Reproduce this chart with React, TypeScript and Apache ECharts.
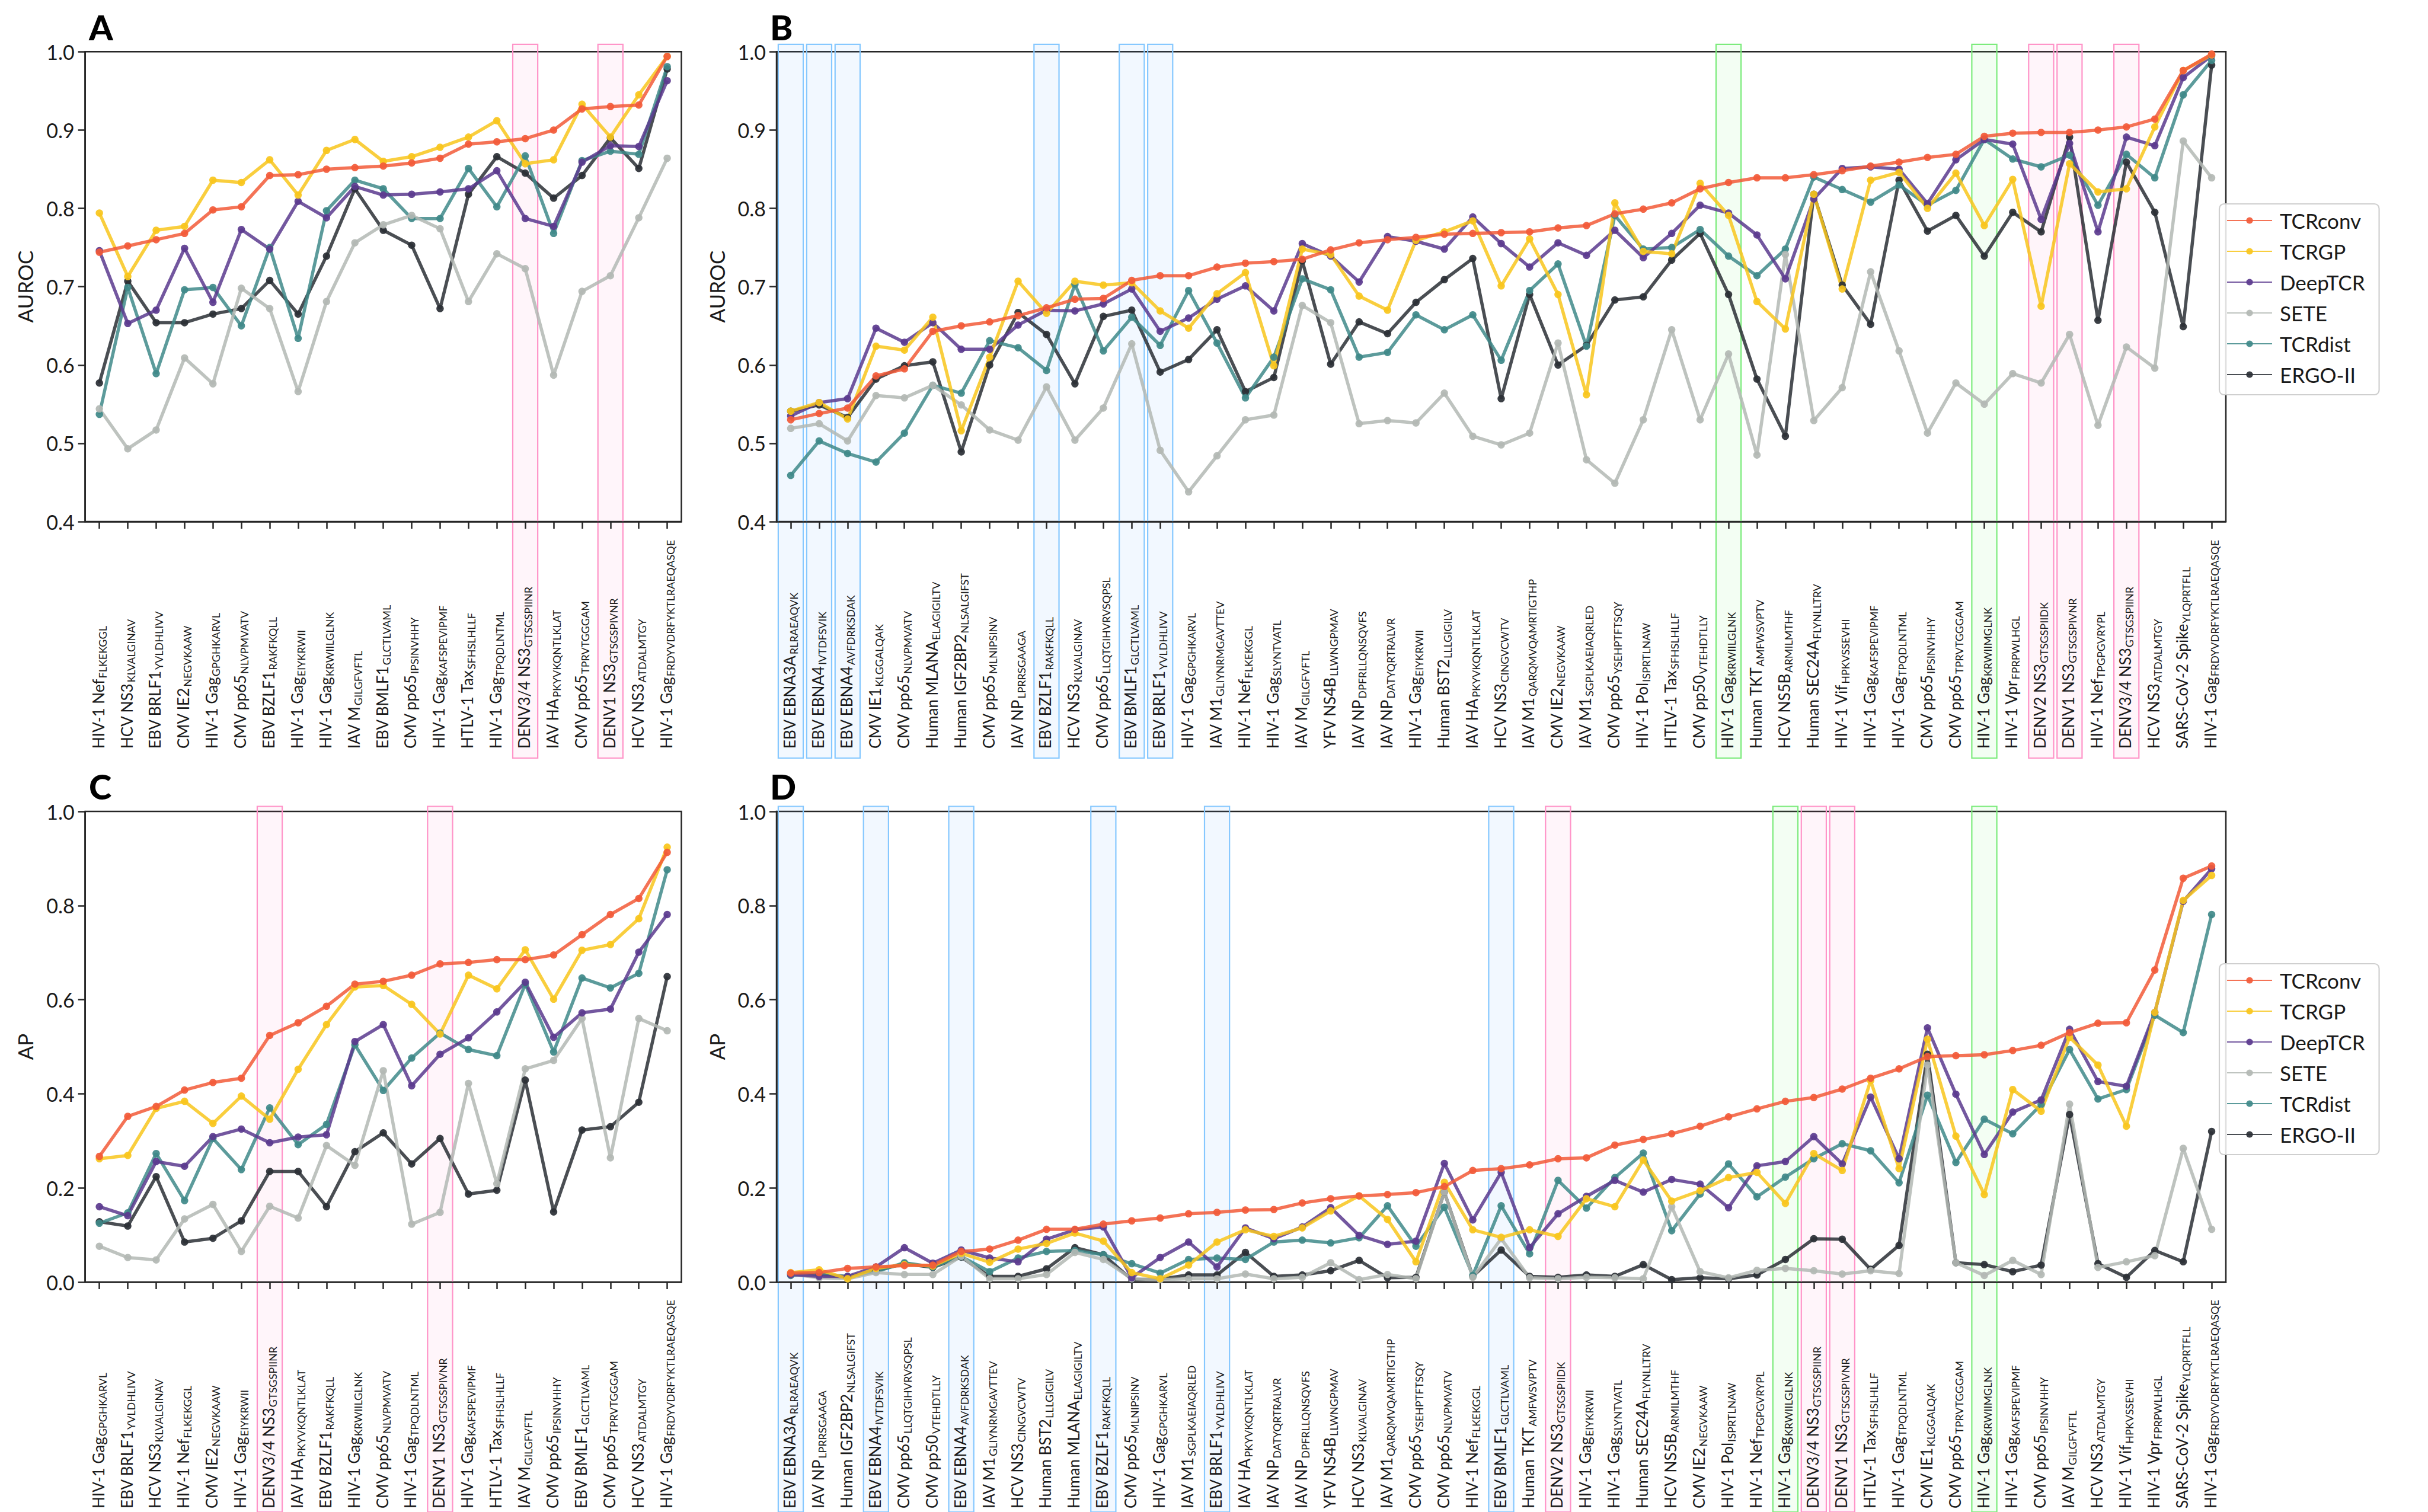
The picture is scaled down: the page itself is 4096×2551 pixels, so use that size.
import React, { useEffect, useRef } from 'react';
import * as echarts from 'echarts';

const W = 4096;
const H = 2551;
const FONT = 'Lato, "Open Sans", "DejaVu Sans", sans-serif';
const INK = '#262626';

// ---------------- categories ----------------
const catsA = ['HIV-1 Nef|FLKEKGGL', 'HCV NS3|KLVALGINAV', 'EBV BRLF1|YVLDHLIVV', 'CMV IE2|NEGVKAAW', 'HIV-1 Gag|GPGHKARVL', 'CMV pp65|NLVPMVATV', 'EBV BZLF1|RAKFKQLL', 'HIV-1 Gag|EIYKRWII', 'HIV-1 Gag|KRWIILGLNK', 'IAV M|GILGFVFTL', 'EBV BMLF1|GLCTLVAML', 'CMV pp65|IPSINVHHY', 'HIV-1 Gag|KAFSPEVIPMF', 'HTLV-1 Tax|SFHSLHLLF', 'HIV-1 Gag|TPQDLNTML', 'DENV3/4 NS3|GTSGSPIINR', 'IAV HA|PKYVKQNTLKLAT', 'CMV pp65|TPRVTGGGAM', 'DENV1 NS3|GTSGSPIVNR', 'HCV NS3|ATDALMTGY', 'HIV-1 Gag|FRDYVDRFYKTLRAEQASQE'];

const catsB = ['EBV EBNA3A|RLRAEAQVK', 'EBV EBNA4|IVTDFSVIK', 'EBV EBNA4|AVFDRKSDAK', 'CMV IE1|KLGGALQAK', 'CMV pp65|NLVPMVATV', 'Human MLANA|ELAGIGILTV', 'Human IGF2BP2|NLSALGIFST', 'CMV pp65|MLNIPSINV', 'IAV NP|LPRRSGAAGA', 'EBV BZLF1|RAKFKQLL', 'HCV NS3|KLVALGINAV', 'CMV pp65|LLQTGIHVRVSQPSL', 'EBV BMLF1|GLCTLVAML', 'EBV BRLF1|YVLDHLIVV', 'HIV-1 Gag|GPGHKARVL', 'IAV M1|GLIYNRMGAVTTEV', 'HIV-1 Nef|FLKEKGGL', 'HIV-1 Gag|SLYNTVATL', 'IAV M|GILGFVFTL', 'YFV NS4B|LLWNGPMAV', 'IAV NP|DPFRLLQNSQVFS', 'IAV NP|DATYQRTRALVR', 'HIV-1 Gag|EIYKRWII', 'Human BST2|LLLGIGILV', 'IAV HA|PKYVKQNTLKLAT', 'HCV NS3|CINGVCWTV', 'IAV M1|QARQMVQAMRTIGTHP', 'CMV IE2|NEGVKAAW', 'IAV M1|SGPLKAEIAQRLED', 'CMV pp65|YSEHPTFTSQY', 'HIV-1 Pol|ISPRTLNAW', 'HTLV-1 Tax|SFHSLHLLF', 'CMV pp50|VTEHDTLLY', 'HIV-1 Gag|KRWIILGLNK', 'Human TKT|AMFWSVPTV', 'HCV NS5B|ARMILMTHF', 'Human SEC24A|FLYNLLTRV', 'HIV-1 Vif|HPKVSSEVHI', 'HIV-1 Gag|KAFSPEVIPMF', 'HIV-1 Gag|TPQDLNTML', 'CMV pp65|IPSINVHHY', 'CMV pp65|TPRVTGGGAM', 'HIV-1 Gag|KRWIIMGLNK', 'HIV-1 Vpr|FPRPWLHGL', 'DENV2 NS3|GTSGSPIIDK', 'DENV1 NS3|GTSGSPIVNR', 'HIV-1 Nef|TPGPGVRYPL', 'DENV3/4 NS3|GTSGSPIINR', 'HCV NS3|ATDALMTGY', 'SARS-CoV-2 Spike|YLQPRTFLL', 'HIV-1 Gag|FRDYVDRFYKTLRAEQASQE'];

const catsC = ['HIV-1 Gag|GPGHKARVL', 'EBV BRLF1|YVLDHLIVV', 'HCV NS3|KLVALGINAV', 'HIV-1 Nef|FLKEKGGL', 'CMV IE2|NEGVKAAW', 'HIV-1 Gag|EIYKRWII', 'DENV3/4 NS3|GTSGSPIINR', 'IAV HA|PKYVKQNTLKLAT', 'EBV BZLF1|RAKFKQLL', 'HIV-1 Gag|KRWIILGLNK', 'CMV pp65|NLVPMVATV', 'HIV-1 Gag|TPQDLNTML', 'DENV1 NS3|GTSGSPIVNR', 'HIV-1 Gag|KAFSPEVIPMF', 'HTLV-1 Tax|SFHSLHLLF', 'IAV M|GILGFVFTL', 'CMV pp65|IPSINVHHY', 'EBV BMLF1|GLCTLVAML', 'CMV pp65|TPRVTGGGAM', 'HCV NS3|ATDALMTGY', 'HIV-1 Gag|FRDYVDRFYKTLRAEQASQE'];

const catsD = ['EBV EBNA3A|RLRAEAQVK', 'IAV NP|LPRRSGAAGA', 'Human IGF2BP2|NLSALGIFST', 'EBV EBNA4|IVTDFSVIK', 'CMV pp65|LLQTGIHVRVSQPSL', 'CMV pp50|VTEHDTLLY', 'EBV EBNA4|AVFDRKSDAK', 'IAV M1|GLIYNRMGAVTTEV', 'HCV NS3|CINGVCWTV', 'Human BST2|LLLGIGILV', 'Human MLANA|ELAGIGILTV', 'EBV BZLF1|RAKFKQLL', 'CMV pp65|MLNIPSINV', 'HIV-1 Gag|GPGHKARVL', 'IAV M1|SGPLKAEIAQRLED', 'EBV BRLF1|YVLDHLIVV', 'IAV HA|PKYVKQNTLKLAT', 'IAV NP|DATYQRTRALVR', 'IAV NP|DPFRLLQNSQVFS', 'YFV NS4B|LLWNGPMAV', 'HCV NS3|KLVALGINAV', 'IAV M1|QARQMVQAMRTIGTHP', 'CMV pp65|YSEHPTFTSQY', 'CMV pp65|NLVPMVATV', 'HIV-1 Nef|FLKEKGGL', 'EBV BMLF1|GLCTLVAML', 'Human TKT|AMFWSVPTV', 'DENV2 NS3|GTSGSPIIDK', 'HIV-1 Gag|EIYKRWII', 'HIV-1 Gag|SLYNTVATL', 'Human SEC24A|FLYNLLTRV', 'HCV NS5B|ARMILMTHF', 'CMV IE2|NEGVKAAW', 'HIV-1 Pol|ISPRTLNAW', 'HIV-1 Nef|TPGPGVRYPL', 'HIV-1 Gag|KRWIILGLNK', 'DENV3/4 NS3|GTSGSPIINR', 'DENV1 NS3|GTSGSPIVNR', 'HTLV-1 Tax|SFHSLHLLF', 'HIV-1 Gag|TPQDLNTML', 'CMV IE1|KLGGALQAK', 'CMV pp65|TPRVTGGGAM', 'HIV-1 Gag|KRWIIMGLNK', 'HIV-1 Gag|KAFSPEVIPMF', 'CMV pp65|IPSINVHHY', 'IAV M|GILGFVFTL', 'HCV NS3|ATDALMTGY', 'HIV-1 Vif|HPKVSSEVHI', 'HIV-1 Vpr|FPRPWLHGL', 'SARS-CoV-2 Spike|YLQPRTFLL', 'HIV-1 Gag|FRDYVDRFYKTLRAEQASQE'];

// highlighted epitopes
const pinkCats = ['DENV3/4 NS3|GTSGSPIINR', 'DENV1 NS3|GTSGSPIVNR', 'DENV2 NS3|GTSGSPIIDK'];
const blueCats = ['EBV EBNA3A|RLRAEAQVK', 'EBV EBNA4|IVTDFSVIK', 'EBV EBNA4|AVFDRKSDAK', 'EBV BZLF1|RAKFKQLL', 'EBV BMLF1|GLCTLVAML', 'EBV BRLF1|YVLDHLIVV'];
const greenCats = ['HIV-1 Gag|KRWIILGLNK', 'HIV-1 Gag|KRWIIMGLNK'];

// ---------------- models ----------------
const models = ['TCRconv', 'TCRGP', 'DeepTCR', 'SETE', 'TCRdist', 'ERGO-II'];
const modelColors = ['#F25A38', '#F8C61C', '#5B3A8E', '#B3B8B4', '#3F8989', '#2A2F35'];

// ---------------- panel A (AUROC) ----------------
const aConv = [0.744, 0.752, 0.760, 0.768, 0.798, 0.802, 0.842, 0.843, 0.850, 0.852, 0.854, 0.858, 0.864, 0.882, 0.885, 0.889, 0.900, 0.927, 0.930, 0.932, 0.994];
const aGP = [0.794, 0.713, 0.772, 0.777, 0.836, 0.833, 0.862, 0.817, 0.874, 0.888, 0.860, 0.866, 0.878, 0.891, 0.912, 0.857, 0.862, 0.933, 0.891, 0.945, 0.994];
const aDeep = [0.746, 0.653, 0.670, 0.749, 0.680, 0.773, 0.748, 0.809, 0.788, 0.828, 0.817, 0.818, 0.821, 0.825, 0.848, 0.787, 0.777, 0.859, 0.880, 0.879, 0.963];
const aSete = [0.544, 0.493, 0.517, 0.609, 0.576, 0.698, 0.672, 0.566, 0.681, 0.756, 0.779, 0.791, 0.774, 0.681, 0.742, 0.723, 0.587, 0.694, 0.714, 0.788, 0.864];
const aDist = [0.537, 0.699, 0.589, 0.696, 0.699, 0.650, 0.750, 0.634, 0.797, 0.836, 0.825, 0.787, 0.787, 0.851, 0.802, 0.867, 0.768, 0.861, 0.873, 0.869, 0.981];
const aErgo = [0.577, 0.707, 0.654, 0.654, 0.665, 0.672, 0.708, 0.665, 0.739, 0.825, 0.772, 0.753, 0.672, 0.818, 0.866, 0.845, 0.813, 0.842, 0.890, 0.851, 0.978];

// ---------------- panel B (AUROC) ----------------
const bConv = [0.530, 0.538, 0.545, 0.586, 0.595, 0.643, 0.650, 0.655, 0.663, 0.673, 0.684, 0.685, 0.708, 0.714, 0.714, 0.725, 0.730, 0.732, 0.735, 0.747, 0.756, 0.760, 0.763, 0.767, 0.768, 0.769, 0.770, 0.775, 0.778, 0.793, 0.799, 0.807, 0.825, 0.833, 0.839, 0.839, 0.843, 0.848, 0.854, 0.859, 0.865, 0.869, 0.892, 0.896, 0.897, 0.897, 0.900, 0.904, 0.914, 0.976, 0.997];
const bGP = [0.541, 0.552, 0.531, 0.624, 0.619, 0.661, 0.516, 0.610, 0.707, 0.666, 0.707, 0.702, 0.705, 0.669, 0.647, 0.691, 0.718, 0.599, 0.748, 0.741, 0.688, 0.670, 0.759, 0.770, 0.784, 0.701, 0.761, 0.690, 0.562, 0.807, 0.745, 0.742, 0.832, 0.791, 0.681, 0.646, 0.818, 0.697, 0.836, 0.846, 0.800, 0.845, 0.778, 0.837, 0.675, 0.857, 0.821, 0.825, 0.904, 0.976, 0.996];
const bDeep = [0.535, 0.552, 0.557, 0.647, 0.629, 0.654, 0.620, 0.620, 0.651, 0.670, 0.669, 0.678, 0.697, 0.643, 0.660, 0.684, 0.701, 0.669, 0.755, 0.739, 0.706, 0.764, 0.758, 0.748, 0.789, 0.755, 0.725, 0.756, 0.740, 0.772, 0.737, 0.768, 0.804, 0.794, 0.766, 0.710, 0.812, 0.851, 0.853, 0.850, 0.806, 0.862, 0.888, 0.882, 0.786, 0.883, 0.770, 0.891, 0.880, 0.967, 0.995];
const bSete = [0.519, 0.525, 0.503, 0.561, 0.558, 0.574, 0.549, 0.517, 0.504, 0.572, 0.504, 0.545, 0.627, 0.491, 0.438, 0.484, 0.530, 0.536, 0.676, 0.654, 0.525, 0.529, 0.526, 0.564, 0.509, 0.498, 0.513, 0.628, 0.479, 0.449, 0.530, 0.645, 0.530, 0.614, 0.485, 0.741, 0.529, 0.571, 0.719, 0.618, 0.513, 0.577, 0.550, 0.589, 0.577, 0.639, 0.523, 0.623, 0.596, 0.886, 0.839];
const bDist = [0.459, 0.503, 0.487, 0.476, 0.513, 0.574, 0.564, 0.631, 0.622, 0.593, 0.703, 0.618, 0.661, 0.625, 0.695, 0.628, 0.558, 0.610, 0.710, 0.696, 0.610, 0.616, 0.664, 0.645, 0.664, 0.606, 0.695, 0.729, 0.624, 0.791, 0.748, 0.750, 0.773, 0.739, 0.714, 0.748, 0.840, 0.824, 0.808, 0.830, 0.804, 0.823, 0.888, 0.863, 0.853, 0.868, 0.804, 0.869, 0.839, 0.945, 0.989];
const bErgo = [0.541, 0.549, 0.533, 0.582, 0.599, 0.604, 0.489, 0.600, 0.667, 0.639, 0.576, 0.662, 0.670, 0.591, 0.607, 0.645, 0.566, 0.584, 0.733, 0.601, 0.655, 0.640, 0.680, 0.709, 0.736, 0.557, 0.690, 0.600, 0.625, 0.683, 0.687, 0.734, 0.768, 0.690, 0.582, 0.509, 0.818, 0.702, 0.652, 0.836, 0.771, 0.791, 0.739, 0.795, 0.770, 0.891, 0.657, 0.859, 0.795, 0.649, 0.983];

// ---------------- panel C (AP) ----------------
const cConv = [0.267, 0.352, 0.373, 0.408, 0.424, 0.433, 0.524, 0.551, 0.586, 0.633, 0.639, 0.652, 0.676, 0.679, 0.685, 0.685, 0.695, 0.738, 0.781, 0.815, 0.913];
const cGP = [0.262, 0.269, 0.369, 0.384, 0.337, 0.395, 0.346, 0.452, 0.547, 0.627, 0.630, 0.590, 0.527, 0.652, 0.623, 0.706, 0.601, 0.705, 0.717, 0.772, 0.924];
const cDeep = [0.160, 0.141, 0.256, 0.246, 0.309, 0.325, 0.296, 0.308, 0.313, 0.511, 0.547, 0.417, 0.484, 0.519, 0.574, 0.637, 0.520, 0.572, 0.580, 0.701, 0.781];
const cSete = [0.076, 0.052, 0.047, 0.134, 0.165, 0.065, 0.161, 0.136, 0.290, 0.248, 0.449, 0.123, 0.148, 0.422, 0.209, 0.453, 0.471, 0.560, 0.264, 0.560, 0.534];
const cDist = [0.125, 0.147, 0.273, 0.173, 0.305, 0.239, 0.370, 0.292, 0.335, 0.504, 0.407, 0.476, 0.529, 0.494, 0.481, 0.633, 0.489, 0.646, 0.625, 0.656, 0.876];
const cErgo = [0.128, 0.119, 0.224, 0.085, 0.093, 0.130, 0.235, 0.235, 0.160, 0.277, 0.317, 0.251, 0.305, 0.187, 0.195, 0.429, 0.149, 0.323, 0.330, 0.382, 0.649];

// ---------------- panel D (AP) ----------------
const dConv = [0.019, 0.020, 0.029, 0.032, 0.035, 0.036, 0.065, 0.070, 0.089, 0.112, 0.112, 0.123, 0.130, 0.136, 0.145, 0.148, 0.153, 0.154, 0.168, 0.177, 0.183, 0.186, 0.190, 0.203, 0.237, 0.241, 0.249, 0.262, 0.264, 0.291, 0.303, 0.315, 0.331, 0.351, 0.368, 0.384, 0.392, 0.410, 0.433, 0.453, 0.479, 0.481, 0.483, 0.492, 0.503, 0.530, 0.550, 0.551, 0.663, 0.858, 0.884];
const dGP = [0.020, 0.026, 0.007, 0.029, 0.037, 0.034, 0.061, 0.042, 0.070, 0.082, 0.104, 0.087, 0.020, 0.007, 0.036, 0.085, 0.111, 0.097, 0.115, 0.151, 0.183, 0.133, 0.043, 0.212, 0.111, 0.095, 0.111, 0.097, 0.177, 0.160, 0.259, 0.172, 0.194, 0.222, 0.233, 0.167, 0.273, 0.237, 0.428, 0.241, 0.516, 0.310, 0.186, 0.409, 0.363, 0.520, 0.461, 0.331, 0.573, 0.811, 0.864];
const dDeep = [0.016, 0.012, 0.012, 0.032, 0.073, 0.040, 0.068, 0.051, 0.043, 0.091, 0.111, 0.117, 0.009, 0.052, 0.085, 0.032, 0.115, 0.092, 0.117, 0.158, 0.099, 0.080, 0.087, 0.252, 0.132, 0.233, 0.073, 0.145, 0.182, 0.216, 0.191, 0.218, 0.208, 0.158, 0.247, 0.256, 0.309, 0.251, 0.393, 0.262, 0.540, 0.399, 0.271, 0.361, 0.387, 0.537, 0.426, 0.416, 0.573, 0.809, 0.878];
const dSete = [0.017, 0.009, 0.007, 0.020, 0.016, 0.016, 0.055, 0.007, 0.007, 0.016, 0.063, 0.048, 0.007, 0.005, 0.007, 0.007, 0.017, 0.007, 0.010, 0.041, 0.005, 0.016, 0.007, 0.191, 0.010, 0.092, 0.009, 0.007, 0.010, 0.009, 0.007, 0.160, 0.022, 0.009, 0.025, 0.029, 0.024, 0.017, 0.024, 0.018, 0.461, 0.041, 0.014, 0.046, 0.016, 0.378, 0.031, 0.043, 0.056, 0.284, 0.112];
const dDist = [0.014, 0.017, 0.012, 0.022, 0.041, 0.032, 0.054, 0.022, 0.051, 0.065, 0.067, 0.058, 0.039, 0.019, 0.048, 0.051, 0.048, 0.085, 0.089, 0.083, 0.094, 0.162, 0.076, 0.159, 0.014, 0.162, 0.060, 0.216, 0.157, 0.222, 0.274, 0.109, 0.187, 0.251, 0.181, 0.223, 0.262, 0.294, 0.279, 0.211, 0.397, 0.254, 0.346, 0.315, 0.377, 0.494, 0.389, 0.409, 0.567, 0.530, 0.781];
const dErgo = [0.017, 0.016, 0.009, 0.024, 0.039, 0.031, 0.053, 0.012, 0.012, 0.028, 0.073, 0.058, 0.005, 0.006, 0.015, 0.015, 0.063, 0.012, 0.015, 0.024, 0.046, 0.009, 0.010, 0.191, 0.012, 0.068, 0.012, 0.010, 0.015, 0.012, 0.037, 0.005, 0.009, 0.007, 0.015, 0.048, 0.092, 0.091, 0.027, 0.078, 0.484, 0.041, 0.037, 0.022, 0.036, 0.356, 0.039, 0.010, 0.067, 0.043, 0.320];

// y-axis definitions
const yAuroc = { name: 'AUROC', min: 0.4, max: 1.0, interval: 0.1 };
const yAp = { name: 'AP', min: 0.0, max: 1.0, interval: 0.2 };

const panels = [
  { letter: 'A', cats: catsA, y: yAuroc, series: [aConv, aGP, aDeep, aSete, aDist, aErgo], all: false },
  { letter: 'B', cats: catsB, y: yAuroc, series: [bConv, bGP, bDeep, bSete, bDist, bErgo], all: true },
  { letter: 'C', cats: catsC, y: yAp, series: [cConv, cGP, cDeep, cSete, cDist, cErgo], all: false },
  { letter: 'D', cats: catsD, y: yAp, series: [dConv, dGP, dDeep, dSete, dDist, dErgo], all: true },
];

// layout (pixels)
const grids = [
  { left: 143.7, top: 87.3, width: 1005.8, height: 792.7 },
  { left: 1310, top: 87.3, width: 2445, height: 792.7 },
  { left: 143.7, top: 1369, width: 1005.8, height: 794 },
  { left: 1310, top: 1369, width: 2445, height: 794 },
];
const rectTopOff = [12.5, 12.5, 8.5, 8.5];
const rectBottom = [1279, 1279, 2551, 2551];
const labelMargin = [383, 383, 382, 382];
const letterPos = [
  { x: 150, y: 16 }, { x: 1299, y: 16 }, { x: 150, y: 1297 }, { x: 1299, y: 1297 },
];
const legendTops = [344, 1626];

const boxStyles = [
  { fill: 'rgba(255,120,185,0.07)', stroke: '#FF94C8' },
  { fill: 'rgba(110,180,255,0.09)', stroke: '#86C8FF' },
  { fill: 'rgba(120,240,120,0.09)', stroke: '#7CEB7C' },
];

function buildOption() {
  const grid: any[] = [];
  const xAxis: any[] = [];
  const yAxis: any[] = [];
  const series: any[] = [];
  const graphic: any[] = [];

  panels.forEach((p, i) => {
    grid.push({ ...grids[i], show: true, borderColor: INK, borderWidth: 2.5, backgroundColor: 'transparent', outerBoundsMode: 'none' });
    xAxis.push({
      type: 'category',
      gridIndex: i,
      data: p.cats,
      boundaryGap: true,
      z: 3,
      axisLine: { show: true, lineStyle: { color: INK, width: 2.5 } },
      axisTick: { show: true, alignWithLabel: true, interval: 0, length: 12, lineStyle: { color: INK, width: 2.5 } },
      axisLabel: {
        interval: 0,
        rotate: 90,
        align: 'left',
        verticalAlign: 'middle',
        margin: labelMargin[i],
        formatter: (v: string) => {
          const [m, s] = v.split('|');
          return `{m|${m}}{s|${s}}`;
        },
        rich: {
          m: { fontSize: 26, fontFamily: FONT, color: '#1a1a1a', lineHeight: 30, verticalAlign: 'top' },
          s: { fontSize: 18, fontFamily: FONT, color: '#1a1a1a', lineHeight: 22, verticalAlign: 'top', padding: [11, 0, 0, 1] },
        },
      },
      splitLine: { show: false },
    });
    yAxis.push({
      type: 'value',
      gridIndex: i,
      min: p.y.min,
      max: p.y.max,
      interval: p.y.interval,
      z: 3,
      name: p.y.name,
      nameLocation: 'middle',
      nameGap: 84,
      nameTextStyle: { fontSize: 35, fontFamily: FONT, color: '#1a1a1a' },
      axisLine: { show: true, lineStyle: { color: INK, width: 2.5 } },
      axisTick: { show: true, length: 12, lineStyle: { color: INK, width: 2.5 } },
      axisLabel: { fontSize: 34, fontFamily: FONT, color: '#1a1a1a', margin: 18, formatter: (v: number) => v.toFixed(1) },
      splitLine: { show: false },
    });

    // highlight boxes
    const hl: any[] = [];
    p.cats.forEach((c, idx) => {
      if (pinkCats.includes(c)) hl.push([idx, 0]);
      else if (p.all && blueCats.includes(c)) hl.push([idx, 1]);
      else if (p.all && greenCats.includes(c)) hl.push([idx, 2]);
    });
    const yMax = p.y.max;
    series.push({
      type: 'custom',
      xAxisIndex: i,
      yAxisIndex: i,
      clip: false,
      silent: true,
      z: 1,
      data: hl,
      renderItem: (params: any, api: any) => {
        const idx = api.value(0);
        const kind = api.value(1);
        const top = api.coord([idx, yMax]);
        const w = api.size([1, 0])[0] * 0.88;
        const y0 = top[1] - rectTopOff[i];
        const st = boxStyles[kind];
        return {
          type: 'rect',
          shape: { x: top[0] - w / 2, y: y0, width: w, height: rectBottom[i] - y0 },
          style: { fill: st.fill, stroke: st.stroke, lineWidth: 2.2 },
        };
      },
    });

    // model lines (drawn so TCRconv ends on top)
    for (let m = models.length - 1; m >= 0; m--) {
      series.push({
        type: 'line',
        name: models[m],
        xAxisIndex: i,
        yAxisIndex: i,
        data: p.series[m],
        symbol: 'circle',
        symbolSize: 12.5,
        z: 5,
        lineStyle: { color: modelColors[m], width: 5.5, opacity: 0.85 },
        itemStyle: { color: modelColors[m], opacity: 0.92 },
        emphasis: { disabled: true },
      });
    }

    graphic.push({
      type: 'text',
      left: letterPos[i].x,
      top: letterPos[i].y,
      style: { text: p.letter, fontSize: 58, fontWeight: 900, fontFamily: FONT, fill: '#000' },
    });
  });

  const legend = legendTops.map((t) => ({
    show: true,
    orient: 'vertical',
    left: 3744,
    top: t,
    data: models,
    itemWidth: 76,
    itemHeight: 14,
    itemGap: 12,
    padding: [8, 24, 14, 12],
    backgroundColor: 'rgba(255,255,255,0.85)',
    borderColor: '#cfcfcf',
    borderWidth: 2.2,
    borderRadius: 8,
    selectedMode: false,
    textStyle: { fontSize: 35, lineHeight: 40, fontFamily: FONT, color: '#1a1a1a', padding: [0, 0, 0, 8] },
  }));

  return {
    animation: false,
    backgroundColor: '#ffffff',
    grid,
    xAxis,
    yAxis,
    series,
    legend,
    graphic,
  };
}

export default function App() {
  const ref = useRef<HTMLDivElement>(null);
  useEffect(() => {
    document.body.style.margin = '0';
    const chart = echarts.init(ref.current as HTMLDivElement, null, { renderer: 'svg', width: W, height: H });
    chart.setOption(buildOption() as any);
    return () => chart.dispose();
  }, []);
  return <div ref={ref} style={{ width: W, height: H }} />;
}
